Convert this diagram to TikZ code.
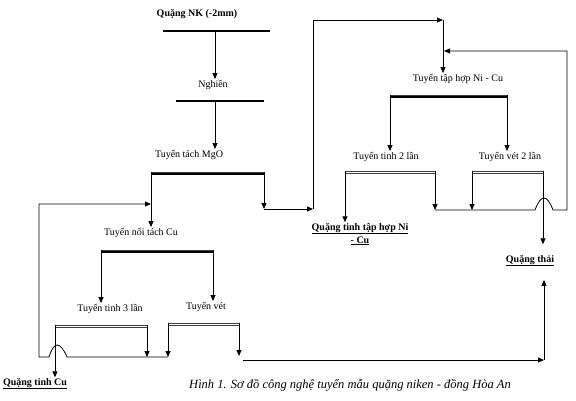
\documentclass[tikz,border=0pt]{standalone}
\usepackage{fontspec}
\setmainfont{Liberation Serif}
\usetikzlibrary{arrows.meta}

\begin{document}
\begin{tikzpicture}[
    x=1pt, y=-1pt,
    font=\fontsize{10}{12}\selectfont,
    stage/.style={inner sep=0.5pt, anchor=base},
    prod/.style={inner sep=0.5pt, anchor=base, align=center,
        font=\fontsize{10}{13}\selectfont\bfseries},
    flow/.style={-{Triangle[length=6pt, width=5pt]}, line width=0.8pt},
    line/.style={line width=0.8pt},
    bar/.style={line width=2.4pt},
    thinbar/.style={line width=0.7pt, draw=black!75}
]
\useasboundingbox (0,0) rectangle (576,400);

% Stages
\node[prod]  (feed) at (197,16)  {Quặng NK (-2mm)};
\node[stage] (ngh)  at (213,87)  {Nghiền};
\node[stage] (mgo)  at (189,157) {Tuyển tách MgO};
\node[stage] (noi)  at (141,235) {Tuyển nổi tách Cu};
\node[stage] (tin3) at (110,311) {Tuyển tinh 3 lần};
\node[stage] (vet)  at (206,309) {Tuyển vét};
\node[stage] (tap)  at (458,81)  {Tuyển tập hợp Ni - Cu};
\node[stage] (tin2) at (386,159) {Tuyển tinh 2 lần};
\node[stage] (vet2) at (510,159) {Tuyển vét 2 lần};

% Products
\node[prod] (cu)   at (35,385)  {\underline{Quặng tinh Cu}};
\node[prod] (nicu) at (360,243) {\underline{Quặng tinh tập hợp Ni}\\\underline{- Cu}};
\node[prod] (thai) at (530,262) {\underline{Quặng thải}};

% Bar ends
\coordinate (nkL) at (163,31);  \coordinate (nkR) at (270,31);  \coordinate (nk) at (215,31);
\coordinate (ngL) at (176,101); \coordinate (ngR) at (264,101); \coordinate (ng) at (215,101);
\coordinate (mgoL) at (151,172); \coordinate (mgoR) at (264,172);
\coordinate (noiL) at (101,250); \coordinate (noiR) at (213,250);
\coordinate (tin3L) at (55,325); \coordinate (tin3R) at (147,325);
\coordinate (vetL) at (168,323); \coordinate (vetR) at (239,323);
\coordinate (tapL) at (390,95);  \coordinate (tapR) at (507,95);
\coordinate (tin2L) at (345,171); \coordinate (tin2R) at (435,171);
\coordinate (vet2L) at (472,171); \coordinate (vet2R) at (543,171);

% Separators
\draw[bar] (nkL) -- (nkR);
\draw[bar, line width=1.8pt] (ngL) -- (ngR);
\foreach \a/\b in {mgoL/mgoR, noiL/noiR, tapL/tapR} {
    \draw[thinbar] (\a) -- (\b);
    \draw[bar, line width=2pt] ([yshift=-2.4pt]\a) -- ([yshift=-2.4pt]\b);
}
\foreach \a/\b in {tin3L/tin3R, vetL/vetR, tin2L/tin2R, vet2L/vet2R} {
    \draw[thinbar] (\a) -- (\b);
    \draw[thinbar] ([yshift=-2.6pt]\a) -- ([yshift=-2.6pt]\b);
}

% Main line
\draw[flow] (nk) -- (nk |- ngh.north);
\draw[flow] (ng) -- (ng |- mgo.north);
\draw[flow] (mgoL) -- (mgoL |- noi.north);
\coordinate (mgoT) at (264,209);
\coordinate (jn) at (313,209);
\coordinate (top) at (443,20);
\draw[flow] (mgoR) -- (mgoT);
\draw[flow] (mgoT) -- (jn);
\draw[flow] (jn) |- (top);
\draw[flow] (top) -- (top |- tap.north);

% Cu circuit
\draw[flow] (noiL) -- (noiL |- tin3.north);
\draw[flow] (noiR) -- (noiR |- vet.north);
\draw[flow] (tin3L) -- (tin3L |- cu.north);
\coordinate (tin3T) at (147,357);
\coordinate (vetT) at (168,357);
\coordinate (vetE) at (239,356);
\draw[flow] (tin3R) -- (tin3T);
\draw[flow] (vetL) -- (vetT);
\draw[flow] (vetR) -- (vetE);
\coordinate (noiIn) at (151,204);
\draw[flow] (vetT) -- (67,357) .. controls (60,341) and (54,341) .. (49,357)
    -- (39,357) |- (noiIn);

% Tailings
\coordinate (tailS) at (243,360);
\coordinate (tailE) at (544,360);
\draw[flow] (tailS) -- (tailE);
\draw[flow, shorten >=13pt] (tailE) -- (tailE |- thai.south);

% Ni - Cu circuit
\draw[flow] (tapL) -- (tapL |- tin2.north);
\draw[flow] (tapR) -- (tapR |- vet2.north);
\draw[flow] (tin2L) -- (tin2L |- nicu.north);
\coordinate (tin2T) at (435,210);
\coordinate (vet2T) at (472,210);
\draw[flow] (tin2R) -- (tin2T);
\draw[flow] (vet2L) -- (vet2T);
\draw[flow, shorten >=10pt] (vet2R) -- (vet2R |- thai.north);
\coordinate (tapIn) at (444,51);
\draw[flow] (tin2T) -- (535,210) .. controls (541,194) and (547,194) .. (553,210)
    -- (567,210) |- (tapIn);

% Caption
\node[stage, font=\fontsize{12.5}{14}\selectfont\itshape] (cap) at (350,388)
    {Hình 1. Sơ đồ công nghệ tuyển mẫu quặng niken - đồng Hòa An};

\end{tikzpicture}
\end{document}
